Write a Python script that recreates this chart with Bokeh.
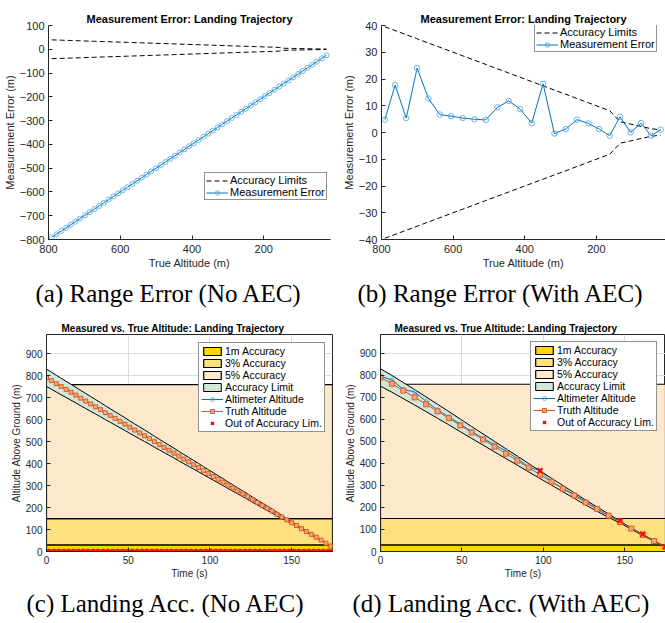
import numpy as np
from bokeh.plotting import figure
from bokeh.models import Range1d, Legend, LegendItem, Title, FixedTicker
from bokeh.layouts import column, row
from bokeh.embed import file_html
from bokeh.resources import INLINE

# ---------------- data ----------------
# No AEC run: altimeter reads 0 the whole descent
time_no_aec = list(range(0, 175, 3))
truth_no_aec = [791, 778, 764, 751, 738, 725, 712, 698, 685, 672, 659, 646, 632, 619, 606,
                593, 580, 566, 553, 540, 527, 514, 500, 487, 474, 461, 448, 434, 421, 408,
                395, 382, 368, 355, 342, 329, 316, 302, 289, 276, 263, 250, 236, 223, 210,
                197, 184, 170, 157, 144, 131, 118, 104, 91, 78, 65, 52, 38, 25]
altimeter_no_aec = [0.0] * len(time_no_aec)

# With AEC run
time_aec = list(range(0, 176, 7))
truth_aec = [790.7, 761.9, 731.0, 700.5, 669.0, 637.2, 605.6, 573.0, 540.5, 508.8, 476.3,
             444.6, 413.0, 380.5, 348.8, 317.2, 285.6, 254.0, 222.3, 192.6, 162.8, 134.0,
             104.2, 75.3, 47.4, 20.5]
error_aec = [4.8, 17.7, 5.4, 24.1, 12.7, 6.7, 6.1, 5.4, 4.95, 4.7, 9.4, 11.8, 8.75, 3.5,
             18.2, -0.4, 1.3, 4.8, 3.4, 1.3, -1.2, 5.9, 0.05, 3.5, -1.2, 1.05]

# accuracy bands (altitude ranges) and requirement
band_names = ["1m Accuracy", "3% Accuracy", "5% Accuracy"]
band_low = [0, 30, 150]
band_high = [30, 150, 760]
band_colors = ["#FFD60A", "#FFE07E", "#FEE8CB"]
req_abs_1m = 1.0
req_frac_3 = 0.03
req_frac_5 = 0.05

x_ticks_alt = [800, 600, 400, 200]
y_ticks_a = [-800, -700, -600, -500, -400, -300, -200, -100, 0, 100]
y_ticks_b = [-40, -30, -20, -10, 0, 10, 20, 30, 40]
x_ticks_t = [0, 50, 100, 150]
y_ticks_alt = [0, 100, 200, 300, 400, 500, 600, 700, 800, 900]

TXT = "#262626"
BLUE = "#0072BD"
BLUE_M = "#4C9FDA"
ORANGE = "#D95319"
GREEN = "#D3E7D6"
SANS = "Liberation Sans"
CAP_SIZE = "25px"


def acc_limit(h):
    if h < band_high[0]:
        return req_abs_1m
    if h < band_high[1]:
        return req_frac_3 * h
    return req_frac_5 * h


def style_axes(p, tick_size, label_size, xlab, ylab, xticks, yticks, xstand, ystand):
    p.xaxis.axis_label = xlab
    p.yaxis.axis_label = ylab
    p.xaxis.ticker = FixedTicker(ticks=xticks)
    p.yaxis.ticker = FixedTicker(ticks=yticks)
    for ax in (p.xaxis[0], p.yaxis[0]):
        ax.axis_line_color = TXT
        ax.major_tick_line_color = TXT
        ax.major_tick_in = 4
        ax.major_tick_out = 0
        ax.minor_tick_line_color = None
        ax.major_label_text_font = SANS
        ax.major_label_text_font_size = tick_size
        ax.major_label_text_color = TXT
        ax.axis_label_text_font = SANS
        ax.axis_label_text_font_size = label_size
        ax.axis_label_text_font_style = "normal"
        ax.axis_label_text_color = TXT
        ax.axis_label_standoff = 1
    p.xaxis.major_label_standoff = xstand
    p.yaxis.major_label_standoff = ystand


def set_title(p, text, size, align="center", offset=0):
    p.title.text = text
    p.title.align = align
    p.title.offset = offset
    p.title.text_font = SANS
    p.title.text_font_size = size
    p.title.text_font_style = "bold"
    p.title.text_color = "black"
    p.title.standoff = 2


def add_caption(p, text, offset, standoff):
    p.add_layout(Title(text=text, align="left", offset=offset, text_font="Liberation Serif",
                       text_font_size=CAP_SIZE, text_font_style="normal", text_color="black",
                       standoff=standoff), "below")


def legend_style(lg, font_size, lh, pad, spacing):
    lg.border_line_color = TXT
    lg.border_line_width = 1
    lg.background_fill_color = "white"
    lg.background_fill_alpha = 1
    lg.label_text_font = SANS
    lg.label_text_font_size = font_size
    lg.label_text_color = "black"
    lg.label_height = lh
    lg.glyph_height = lh
    lg.glyph_width = 22
    lg.label_standoff = 2
    lg.spacing = spacing
    lg.padding = pad
    lg.margin = 0


# ---------------- (a) Range error, no AEC ----------------
err_no_aec = [m - t for m, t in zip(altimeter_no_aec, truth_no_aec)]
lim_no_aec = [acc_limit(h) for h in truth_no_aec]

pa = figure(width=333, height=312, x_range=Range1d(800, 14), y_range=Range1d(-800, 100),
            output_backend="svg", toolbar_location=None,
            min_border_left=46, min_border_right=3, min_border_top=25, min_border_bottom=72)
pa.grid.grid_line_color = None
pa.outline_line_color = None
set_title(pa, "Measurement Error: Landing Trajectory", "11px")
style_axes(pa, "11px", "11px", "True Altitude (m)", "Measurement Error (m)",
           x_ticks_alt, y_ticks_a, 5, 4)
ra1 = pa.line(truth_no_aec, lim_no_aec, line_color="black", line_dash="5 3", line_width=1)
pa.line(truth_no_aec, [-v for v in lim_no_aec], line_color="black", line_dash="5 3", line_width=1)
ra2 = pa.line(truth_no_aec, err_no_aec, line_color=BLUE, line_width=1)
ra3 = pa.scatter(truth_no_aec, err_no_aec, marker="circle", size=5, line_color=BLUE_M,
                 fill_color=None, line_width=0.8)
lga = Legend(items=[LegendItem(label="Accuracy Limits", renderers=[ra1]),
                    LegendItem(label="Measurement Error", renderers=[ra2, ra3])],
             location=(156, 39))
legend_style(lga, "11px", 11, 1, 0)
pa.add_layout(lga)
add_caption(pa, "(a) Range Error (No AEC)", -13, 12)

# ---------------- (b) Range error, with AEC ----------------
lim_aec = [acc_limit(h) for h in truth_aec]
pb = figure(width=332, height=312, x_range=Range1d(800, 7), y_range=Range1d(-40, 40),
            output_backend="svg", toolbar_location=None,
            min_border_left=48, min_border_right=0, min_border_top=22, min_border_bottom=72)
pb.grid.grid_line_color = None
pb.outline_line_color = None
set_title(pb, "Measurement Error: Landing Trajectory", "11px")
style_axes(pb, "11px", "11px", "True Altitude (m)", "Measurement Error (m)",
           x_ticks_alt, y_ticks_b, 5, 4)
rb1 = pb.line(truth_aec, lim_aec, line_color="black", line_dash="5 3", line_width=1)
pb.line(truth_aec, [-v for v in lim_aec], line_color="black", line_dash="5 3", line_width=1)
rb2 = pb.line(truth_aec, error_aec, line_color=BLUE, line_width=1)
rb3 = pb.scatter(truth_aec, error_aec, marker="circle", size=5.5, line_color=BLUE_M,
                 fill_color=None, line_width=0.8)
lgb = Legend(items=[LegendItem(label="Accuracy Limits", renderers=[rb1]),
                    LegendItem(label="Measurement Error", renderers=[rb2, rb3])],
             location=(153, 187))
legend_style(lgb, "11px", 11, 1, 0)
pb.add_layout(lgb)
add_caption(pb, "(b) Range Error (With AEC)", -24, 12)


# ---------------- (c), (d) Landing accuracy ----------------
def landing_fig(width, mb_left, mb_right, mb_top, y_end, times, truth, meas, t_end,
                title_off, caption, cap_off, leg_loc, sq_size):
    p = figure(width=width, height=311, x_range=Range1d(0, t_end), y_range=Range1d(0, y_end),
               output_backend="svg", toolbar_location=None,
               min_border_left=mb_left, min_border_right=mb_right, min_border_top=mb_top,
               min_border_bottom=72)
    p.grid.grid_line_color = "#DCDCDC"
    p.grid.grid_line_width = 1
    p.outline_line_color = TXT
    set_title(p, "Measured vs. True Altitude: Landing Trajectory", "10px", "left", title_off)
    style_axes(p, "10px", "10px", "Time (s)", "Altitude Above Ground (m)",
               x_ticks_t, y_ticks_alt, 4, 4)
    bands = []
    for lo, hi, col in zip(band_low, band_high, band_colors):
        bands.append(p.quad(left=0, right=t_end, bottom=lo, top=hi, fill_color=col,
                            line_color="black", line_width=1.2))
    lim = [acc_limit(h) for h in truth]
    upper = [h + l for h, l in zip(truth, lim)]
    lower = [h - l for h, l in zip(truth, lim)]
    rg = p.patch(times + times[::-1], upper + lower[::-1], fill_color=GREEN,
                 line_color="black", line_width=1)
    r_al = p.line(times, meas, line_color=BLUE, line_width=1)
    r_am = p.scatter(times, meas, marker="circle", size=4, line_color=BLUE_M,
                     fill_color=None, line_width=0.8)
    r_tl = p.line(times, truth, line_color=ORANGE, line_width=1)
    r_tm = p.scatter(times, truth, marker="square", size=sq_size, line_color=ORANGE,
                     fill_color="#F2A680", line_width=0.9)
    out_t = [t for t, m, h, l in zip(times, meas, truth, lim) if abs(m - h) > l]
    out_m = [m for t, m, h, l in zip(times, meas, truth, lim) if abs(m - h) > l]
    r_x = p.scatter(out_t, out_m, marker="x", size=7, line_color="#FF0000", line_width=1.8)
    lg = Legend(items=[LegendItem(label=band_names[0], renderers=[bands[0]]),
                       LegendItem(label=band_names[1], renderers=[bands[1]]),
                       LegendItem(label=band_names[2], renderers=[bands[2]]),
                       LegendItem(label="Accuracy Limit", renderers=[rg]),
                       LegendItem(label="Altimeter Altitude", renderers=[r_al, r_am]),
                       LegendItem(label="Truth Altitude", renderers=[r_tl, r_tm]),
                       LegendItem(label="Out of Accuracy Lim.", renderers=[r_x])],
                location=leg_loc)
    legend_style(lg, "10.5px", 10, 2, 0)
    p.add_layout(lg)
    add_caption(p, caption, cap_off, 12)
    return p


alt_aec = [h + e for h, e in zip(truth_aec, error_aec)]
pc = landing_fig(333, 46, 1, 22, 988, time_no_aec, truth_no_aec, altimeter_no_aec, 175,
                 15, "(c) Landing Acc. (No AEC)", -20, (152, 119), 4)
pd = landing_fig(332, 47, 0, 21, 986, time_aec, truth_aec, alt_aec, 175,
                 14, "(d) Landing Acc. (With AEC)", -28, (150, 120), 5)

layout = column(row(pa, pb), row(pc, pd))
open("out.html", "w").write(file_html(layout, INLINE))
